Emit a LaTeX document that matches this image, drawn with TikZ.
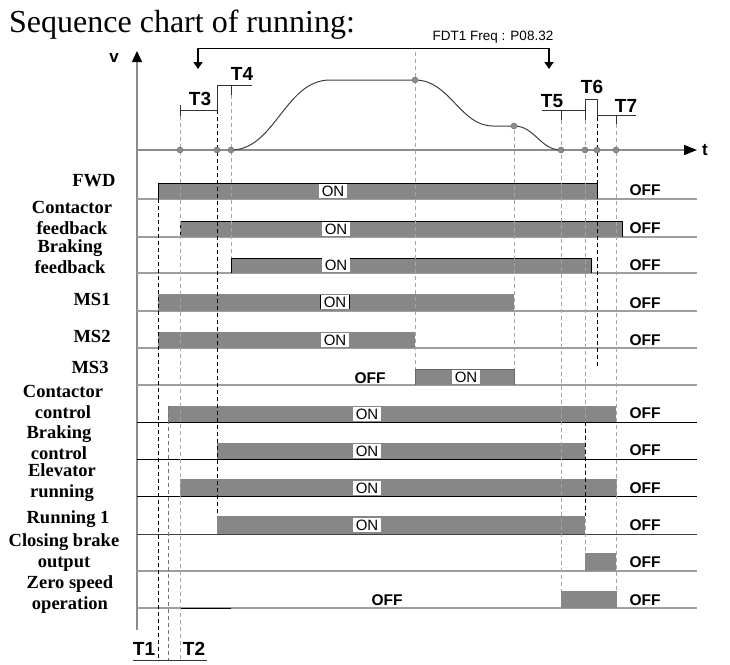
\documentclass[tikz,border=0pt]{standalone}
\usepackage{fontspec}
\setmainfont{Liberation Serif}
\setsansfont{Liberation Sans}
\usepackage{tikz}
\usetikzlibrary{arrows.meta}

\begin{document}
\begin{tikzpicture}[x=1pt, y=-1pt,
		bar_style/.style={fill=black!47},
		bar_edge/.style={fill=black!47, draw=black, line width=0.8pt},
		base_gray/.style={draw=black!38, line width=1.2pt},
		base_black/.style={draw=black, line width=1pt},
		axis_style/.style={draw=black!45, line width=1.5pt},
		curve_style/.style={draw=black!75, line width=1pt},
		dash_gray/.style={draw=black!35, line width=1pt, dash pattern=on 4pt off 3pt},
		dash_black/.style={draw=black, line width=0.9pt, dash pattern=on 4pt off 3pt},
		mark_style/.style={draw=black!80, line width=0.9pt},
		dot_style/.style={circle, fill=black!45, draw=black!60, inner sep=0pt, minimum size=6pt},
		sig_style/.style={align=center, font=\bfseries\fontsize{18.5}{21}\selectfont},
		on_style/.style={fill=white, inner xsep=3pt, inner ysep=0pt, minimum height=14pt, font=\sffamily\fontsize{15}{15}\selectfont},
		off_style/.style={font=\sffamily\bfseries\fontsize{15.5}{15.5}\selectfont},
		time_style/.style={font=\sffamily\bfseries\fontsize{19}{19}\selectfont}]

	\fill[white] (0,0) rectangle (730,664);
	\useasboundingbox (0,0) rectangle (730,664);

	\node[anchor=base west, inner sep=0pt, font=\fontsize{32}{32}\selectfont] (title) at (9,32) {Sequence chart of running:};

	% speed curve
	\draw[axis_style, -{Triangle[length=11pt, width=10pt, color=black]}] (137,630) -- (137,51);
	\draw[axis_style, -{Triangle[length=13pt, width=10pt, color=black]}] (137,150) -- (697,150);
	\node[font=\sffamily\bfseries\fontsize{17}{17}\selectfont] (v_lbl) at (114,58) {v};
	\node[font=\sffamily\bfseries\fontsize{17}{17}\selectfont] (t_lbl) at (705,150) {t};
	\draw[curve_style] (231,150) .. controls (275,150) and (285,80) .. (330,80) -- (415,80)
		.. controls (450,80) and (460,126) .. (493,126) -- (514,126)
		.. controls (535,126) and (540,150) .. (561,150);

	\coordinate (fdt_a) at (198,48);
	\coordinate (fdt_b) at (549,48);
	\draw[black, line width=1pt] (fdt_a) -- (fdt_b);
	\draw[black, line width=2.5pt, -{Triangle[length=7pt, width=9pt]}] (fdt_a) -- ++(0,21);
	\draw[black, line width=2.5pt, -{Triangle[length=7pt, width=9pt]}] (fdt_b) -- ++(0,21);
	\node[font=\sffamily\fontsize{13.5}{13.5}\selectfont] (fdt_lbl) at (493,37) {FDT1 Freq : P08.32};

	% row base lines
	\draw[base_gray] (137,199) -- (697,199);
	\draw[base_gray] (137,237) -- (697,237);
	\draw[base_gray] (137,273) -- (697,273);
	\draw[base_gray] (137,311) -- (697,311);
	\draw[base_gray] (137,348) -- (697,348);
	\draw[base_gray] (137,385) -- (697,385);
	\draw[base_black] (137,422) -- (697,422);
	\draw[base_black] (137,459) -- (697,459);
	\draw[base_black] (137,496) -- (697,496);
	\draw[base_black, draw=black!75] (137,534) -- (697,534);
	\draw[base_gray] (137,571) -- (697,571);
	\draw[base_gray] (137,608) -- (697,608);
	\draw[base_black] (180,608) -- (231,608);

	% bars
	\path[bar_edge] (158,199) |- (597,183) -- (597,199);
	\path[bar_edge] (180,237) |- (622,221) -- (622,237);
	\path[bar_edge] (231,273) |- (591,258) -- (591,273);
	\fill[bar_style] (158,294) rectangle (514,311);
	\fill[bar_style] (158,332) rectangle (415,348);
	\path[bar_style, draw=black!60, line width=0.8pt] (415,385) |- (514,369) -- (514,385);
	\fill[bar_style] (168,406) rectangle (616,422);
	\fill[bar_style] (217,443) rectangle (585,459);
	\fill[bar_style] (180,479) rectangle (617,496);
	\fill[bar_style] (217,516) rectangle (585,534);
	\fill[bar_style] (585,553) rectangle (616,571);
	\fill[bar_style] (561,591) rectangle (617,608);

	% time marks
	\draw[mark_style] (180,105) -- (180,116);
	\draw[mark_style] (180,110) -- (217,110);
	\draw[mark_style] (217,85) -- (217,110);
	\draw[mark_style] (217,85) -- (252,85);
	\draw[mark_style] (231,85) -- (231,95);
	\draw[mark_style] (542,110) -- (585,110);
	\draw[mark_style] (561,110) -- (561,120);
	\draw[mark_style] (585,99) -- (585,120);
	\draw[mark_style] (585,99) -- (597,99);
	\draw[mark_style] (597,99) -- (597,117);
	\draw[mark_style] (597,115) -- (636,115);
	\draw[mark_style] (616,115) -- (616,124);
	\draw[mark_style] (133,660) -- (207,660);

	\node[time_style] (t3) at (200,99) {T3};
	\node[time_style] (t4) at (242,74) {T4};
	\node[time_style] (t5) at (552,101) {T5};
	\node[time_style] (t6) at (592,87) {T6};
	\node[time_style] (t7) at (626,106) {T7};
	\node[time_style] (t1) at (144,649) {T1};
	\node[time_style] (t2) at (194,649) {T2};

	% dashed time lines
	\draw[dash_black] (158,199) -- (158,660);
	\draw[dash_gray, draw=black!55] (168,406) -- (168,660);
	\draw[dash_gray] (180,116) -- (180,660);
	\draw[dash_black] (217,110) -- (217,516);
	\draw[dash_gray] (231,95) -- (231,258);
	\draw[dash_gray] (415,52) -- (415,369);
	\draw[dash_gray] (514,130) -- (514,369);
	\draw[dash_gray] (561,120) -- (561,591);
	\draw[dash_gray] (585,120) -- (585,553);
	\draw[dash_black] (585,422) -- (585,516);
	\draw[dash_black] (597,117) -- (597,368);
	\draw[dash_gray] (616,124) -- (616,591);

	\node[dot_style] (d1) at (180,150) {};
	\node[dot_style] (d2) at (217,150) {};
	\node[dot_style] (d3) at (231,150) {};
	\node[dot_style] (d4) at (415,80) {};
	\node[dot_style] (d5) at (514,126) {};
	\node[dot_style] (d6) at (561,150) {};
	\node[dot_style] (d7) at (585,150) {};
	\node[dot_style] (d8) at (597,150) {};
	\node[dot_style] (d9) at (616,150) {};

	% signal names
	\node[sig_style] (fwd) at (94,181) {FWD};
	\node[sig_style] (cont_fb) at (72,218) {Contactor\\feedback};
	\node[sig_style] (brake_fb) at (70,257) {Braking\\feedback};
	\node[sig_style] (ms1) at (92,299) {MS1};
	\node[sig_style] (ms2) at (92,336) {MS2};
	\node[sig_style] (ms3) at (90,367) {MS3};
	\node[sig_style] (cont_ctl) at (63,402) {Contactor\\control};
	\node[sig_style] (brake_ctl) at (59,443) {Braking\\control};
	\node[sig_style] (elev_run) at (62,483) {Elevator\\running};
	\node[sig_style] (run1) at (68,519) {Running 1};
	\node[sig_style] (close_brake) at (64,553) {Closing brake\\output};
	\node[sig_style] (zero_spd) at (70,595) {Zero speed\\operation};

	% states
	\node[on_style] (on_fwd) at (333,191) {ON};
	\node[on_style] (on_cfb) at (336,229) {ON};
	\node[on_style] (on_bfb) at (336,265) {ON};
	\node[on_style] (on_ms1) at (335,302) {ON};
	\draw[black, line width=0.7pt] (on_ms1.north west) -- (on_ms1.south west);
	\draw[black, line width=0.7pt] (on_ms1.north east) -- (on_ms1.south east);
	\node[on_style] (on_ms2) at (335,340) {ON};
	\node[on_style] (on_ms3) at (466,377) {ON};
	\node[on_style] (on_cc) at (367,414) {ON};
	\node[on_style] (on_bc) at (367,451) {ON};
	\node[on_style] (on_er) at (367,488) {ON};
	\node[on_style] (on_r1) at (367,525) {ON};
	\node[off_style] (off_ms3) at (370,378) {OFF};
	\node[off_style] (off_zs) at (387,600) {OFF};

	\node[off_style] (off_fwd) at (645,190) {OFF};
	\node[off_style] (off_cfb) at (645,228) {OFF};
	\node[off_style] (off_bfb) at (645,265) {OFF};
	\node[off_style] (off_ms1) at (645,303) {OFF};
	\node[off_style] (off_ms2) at (645,340) {OFF};
	\node[off_style] (off_cc) at (645,413) {OFF};
	\node[off_style] (off_bc) at (645,450) {OFF};
	\node[off_style] (off_er) at (645,488) {OFF};
	\node[off_style] (off_r1) at (645,525) {OFF};
	\node[off_style] (off_cb) at (645,562) {OFF};
	\node[off_style] (off_zs2) at (645,600) {OFF};
\end{tikzpicture}
\end{document}
